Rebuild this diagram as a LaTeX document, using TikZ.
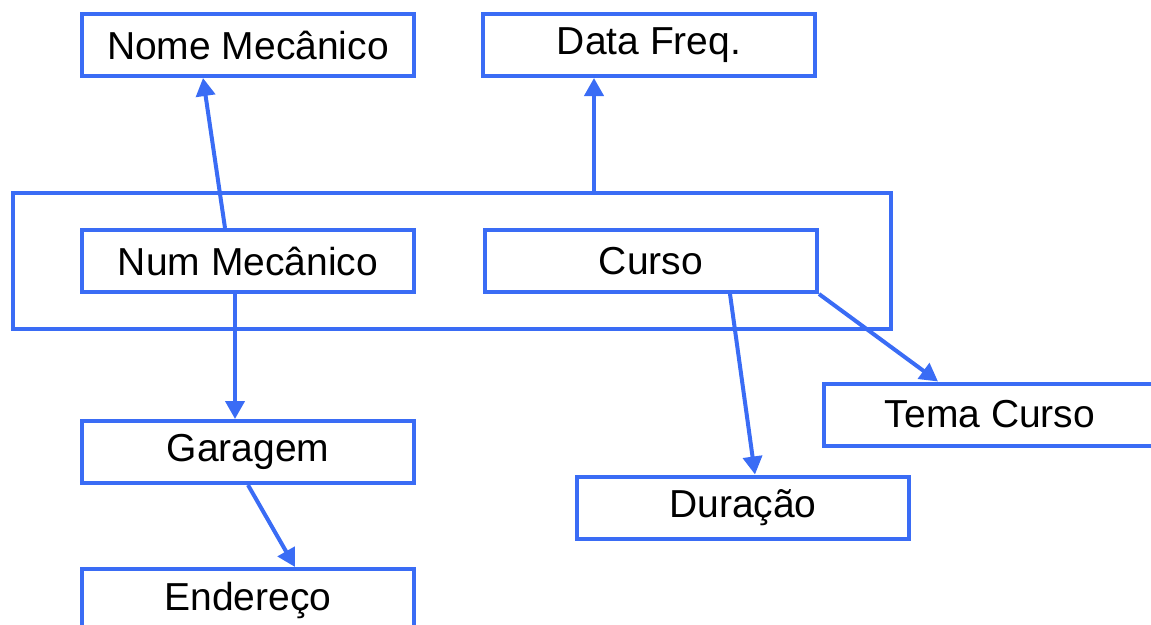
\documentclass[tikz,border=0pt]{standalone}
\usepackage{fontspec}
\setmainfont{Liberation Sans}
\usepackage{tikz}
\usetikzlibrary{arrows.meta}
\usetikzlibrary{calc}
\definecolor{azul}{RGB}{58,108,245}

\begin{document}
\begin{tikzpicture}[x=1pt,y=-1pt,
    caixa/.style={draw=azul,line width=4pt,minimum width=332pt,minimum height=62pt,
      inner sep=0pt,font=\fontsize{39}{47}\selectfont},
    seta/.style={draw=azul,line width=4pt,-{Triangle[length=18pt,width=19pt]}}]

      % frame
      \useasboundingbox (0,0) rectangle (1151,624);
      \clip (0,0) rectangle (1151,624);

      % group box
      \node[draw=azul,line width=4pt,minimum width=878pt,minimum height=136pt,inner sep=0pt]
        (grupo) at (452,261) {};

      % boxes
      \node[caixa] (nome) at (248,45) {Nome Mecânico};
      \node[caixa] (data) at (649,45) {Data Freq.};
      \node[caixa] (num) at (248,261) {Num Mecânico};
      \node[caixa] (curso) at (651,261) {Curso};
      \node[caixa] (tema) at (990,414.5) {Tema Curso};
      \node[caixa] (garagem) at (248,452) {Garagem};
      \node[caixa] (duracao) at (743,507.5) {Duração};
      \node[caixa] (endereco) at (248,600) {Endereço};

      % arrows
      \draw[seta] ([xshift=-23pt]num.north) -- ([xshift=-45pt]nome.south);
      \draw[seta] ([xshift=142pt]grupo.north) -- ([xshift=142pt]grupo.north |- data.south);
      \draw[seta] ([xshift=-13pt]num.south) -- ([xshift=-13pt]garagem.north);
      \draw[seta] (garagem.south) -- ([xshift=47pt]endereco.north);
      \draw[seta] ([xshift=79pt]curso.south) -- ([xshift=12pt]duracao.north);
      \draw[seta] (curso.south east) -- ([xshift=-52pt]tema.north);

\end{tikzpicture}
\end{document}
